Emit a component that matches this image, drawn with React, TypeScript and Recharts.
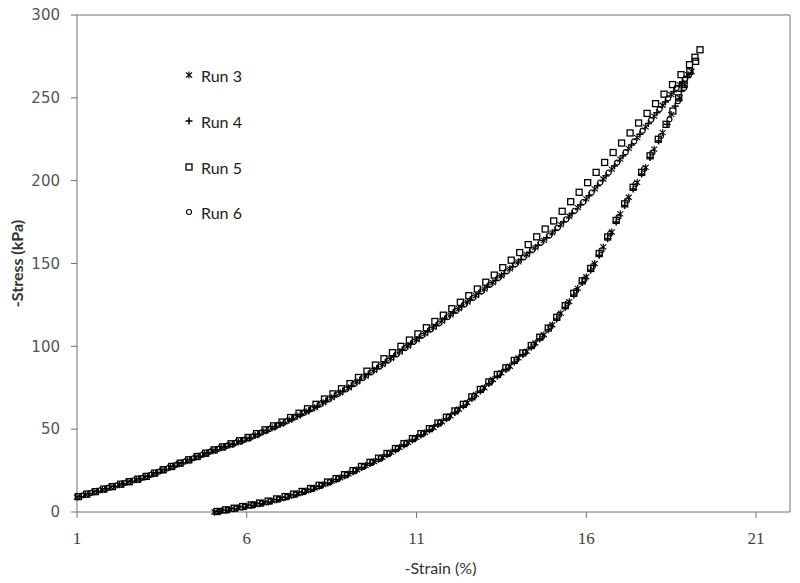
import { ScatterChart, Scatter, XAxis, YAxis, ReferenceLine } from "recharts";

type Pt = [number, number];

const seriesNames = ["Run 3", "Run 4", "Run 5", "Run 6"];
const markerKinds = ["asterisk", "plus", "square", "circle"];
const strainTicks = [1, 6, 11, 16, 21];
const stressTicks = [0, 50, 100, 150, 200, 250, 300];

// [strain %, stress kPa]; loading branch, then unloading branch
const run3Loading: Pt[] = [
  [1.0, 9], [1.25, 10.5], [1.5, 12], [1.75, 13.5], [2.0, 15], [2.25, 16.5], [2.5, 18], [2.75, 19.5],
  [3.0, 21], [3.25, 23], [3.5, 25], [3.75, 27], [4.0, 29], [4.25, 31], [4.5, 33], [4.75, 35],
  [5.0, 37], [5.25, 38.8], [5.5, 40.5], [5.75, 42.3], [6.0, 44], [6.25, 46.2], [6.5, 48.5], [6.75, 50.8],
  [7.0, 53], [7.25, 55.5], [7.5, 58], [7.75, 60.5], [8.0, 63], [8.25, 66], [8.5, 69], [8.75, 72],
  [9.0, 75], [9.25, 78.5], [9.5, 82], [9.75, 85.5], [10.0, 89], [10.25, 92.7], [10.5, 96.5], [10.75, 100.2],
  [11.0, 104], [11.25, 107.7], [11.5, 111.4], [11.75, 115.2], [12.0, 119], [12.25, 122.8], [12.5, 126.7], [12.75, 130.6],
  [13.0, 134.5], [13.25, 138.5], [13.5, 142.6], [13.75, 146.8], [14.0, 151], [14.25, 155.3], [14.5, 159.6], [14.75, 164],
  [15.0, 168.5], [15.25, 173.5], [15.5, 178.5], [15.75, 183.7], [16.0, 189], [16.25, 195], [16.5, 201], [16.75, 207],
  [17.0, 213], [17.25, 219.5], [17.5, 226], [17.75, 232.5], [18.0, 239], [18.25, 245.5], [18.5, 252], [18.75, 258],
  [19.0, 264], [19.1, 266],
];
const run3Unloading: Pt[] = [
  [18.9, 258], [18.75, 250], [18.5, 240], [18.25, 229], [18.0, 219], [17.75, 208], [17.5, 199], [17.25, 190],
  [17.0, 180], [16.75, 169], [16.5, 160], [16.25, 150], [16.0, 142], [15.75, 135], [15.5, 127], [15.25, 120],
  [15.0, 113], [14.75, 107], [14.5, 102], [14.25, 97], [14.0, 93], [13.75, 88], [13.5, 84], [13.25, 80],
  [13.0, 75], [12.75, 71], [12.5, 66], [12.25, 62], [12.0, 58], [11.75, 54.5], [11.5, 51], [11.25, 48],
  [11.0, 45], [10.75, 42], [10.5, 39], [10.25, 36], [10.0, 33], [9.75, 30.5], [9.5, 28], [9.25, 25.5],
  [9.0, 23], [8.75, 20.7], [8.5, 18.5], [8.25, 16.5], [8.0, 14.5], [7.75, 12.7], [7.5, 11], [7.25, 9.5],
  [7.0, 8], [6.75, 6.7], [6.5, 5.5], [6.25, 4.5], [6.0, 3.5], [5.75, 2.5], [5.5, 1.5], [5.25, 0.7],
  [5.05, 0],
];

const run4Loading: Pt[] = [
  [1.08, 9.3], [1.33, 11], [1.58, 12.5], [1.83, 14], [2.08, 15.5], [2.33, 17], [2.58, 18.5], [2.83, 20],
  [3.08, 21.6], [3.33, 23.6], [3.58, 25.6], [3.83, 27.6], [4.08, 29.6], [4.33, 31.6], [4.58, 33.6], [4.83, 35.6],
  [5.08, 37.5], [5.33, 39.3], [5.58, 41], [5.83, 42.8], [6.08, 44.6], [6.33, 46.9], [6.58, 49.2], [6.83, 51.5],
  [7.08, 53.8], [7.33, 56.3], [7.58, 58.8], [7.83, 61.3], [8.08, 64], [8.33, 67], [8.58, 70], [8.83, 73],
  [9.08, 76.1], [9.33, 79.6], [9.58, 83.1], [9.83, 86.6], [10.08, 90.2], [10.33, 93.9], [10.58, 97.7], [10.83, 101.4],
  [11.08, 105.2], [11.33, 108.9], [11.58, 112.6], [11.83, 116.4], [12.08, 120.2], [12.33, 124], [12.58, 127.9], [12.83, 131.8],
  [13.08, 135.8], [13.33, 139.8], [13.58, 143.9], [13.83, 148.1], [14.08, 152.4], [14.33, 156.7], [14.58, 161], [14.83, 165.5],
  [15.08, 170], [15.33, 175.1], [15.58, 180.2], [15.83, 185.4], [16.08, 190.9], [16.33, 196.9], [16.58, 202.9], [16.83, 208.9],
  [17.08, 215], [17.33, 221.5], [17.58, 228], [17.83, 234.5], [18.08, 241], [18.33, 247.5], [18.58, 253.8], [18.83, 259.6],
  [18.98, 262.5],
];
const run4Unloading: Pt[] = [
  [18.8, 254], [18.62, 245], [18.38, 234], [18.13, 224], [17.88, 214], [17.63, 204], [17.38, 195], [17.13, 185],
  [16.88, 175], [16.63, 165], [16.38, 155], [16.13, 146], [15.88, 138.5], [15.63, 131], [15.38, 123.5], [15.13, 116.5],
  [14.88, 110], [14.63, 104.5], [14.38, 99.5], [14.13, 95], [13.88, 90.5], [13.63, 86], [13.38, 82], [13.13, 77.5],
  [12.88, 73], [12.63, 68.5], [12.38, 64], [12.13, 60], [11.88, 56.3], [11.63, 52.8], [11.38, 49.5], [11.13, 46.5],
  [10.88, 43.5], [10.63, 40.5], [10.38, 37.5], [10.13, 34.5], [9.88, 31.8], [9.63, 29.3], [9.38, 26.8], [9.13, 24.3],
  [8.88, 21.9], [8.63, 19.6], [8.38, 17.5], [8.13, 15.5], [7.88, 13.6], [7.63, 11.9], [7.38, 10.3], [7.13, 8.8],
  [6.88, 7.4], [6.63, 6.1], [6.38, 5], [6.13, 4], [5.88, 3], [5.63, 2], [5.38, 1.1], [5.15, 0.3],
];

const run5Loading: Pt[] = [
  [1.04, 9.3], [1.29, 10.8], [1.54, 12.3], [1.79, 13.8], [2.04, 15.3], [2.29, 16.8], [2.54, 18.3], [2.79, 19.8],
  [3.04, 21.5], [3.29, 23.5], [3.54, 25.5], [3.79, 27.5], [4.04, 29.5], [4.29, 31.5], [4.54, 33.5], [4.79, 35.5],
  [5.04, 37.5], [5.29, 39.3], [5.54, 41.2], [5.79, 43], [6.04, 45], [6.29, 47.3], [6.54, 49.6], [6.79, 52],
  [7.04, 54.3], [7.29, 57], [7.54, 59.6], [7.79, 62.3], [8.04, 65], [8.29, 68.2], [8.54, 71.3], [8.79, 74.4],
  [9.04, 77.5], [9.29, 81.2], [9.54, 85], [9.79, 88.7], [10.04, 92.5], [10.29, 96.2], [10.54, 100], [10.79, 103.8],
  [11.04, 107.5], [11.29, 111.2], [11.54, 115], [11.79, 118.8], [12.04, 122.7], [12.29, 126.6], [12.54, 130.6], [12.79, 134.6],
  [13.04, 138.7], [13.29, 143], [13.54, 147.5], [13.79, 152], [14.04, 156.6], [14.29, 161.4], [14.54, 166.1], [14.79, 170.8],
  [15.04, 175.7], [15.29, 181.5], [15.54, 187.3], [15.79, 193], [16.04, 198.8], [16.29, 205], [16.54, 211], [16.79, 217],
  [17.04, 222.7], [17.29, 228.8], [17.54, 234.8], [17.79, 240.6], [18.04, 246.5], [18.29, 252.2], [18.54, 258], [18.79, 264],
  [19.04, 270], [19.2, 274.5], [19.35, 279],
];
const run5Unloading: Pt[] = [
  [19.22, 272], [19.05, 266], [18.88, 258], [18.72, 250], [18.55, 242], [18.35, 234], [18.12, 225], [17.88, 215],
  [17.63, 205], [17.38, 196], [17.13, 186], [16.88, 176], [16.63, 166], [16.38, 156], [16.13, 147], [15.88, 139.5],
  [15.63, 132], [15.38, 124.5], [15.13, 117.5], [14.88, 111], [14.63, 105.5], [14.38, 100.5], [14.13, 96], [13.88, 91.5],
  [13.63, 87], [13.38, 83], [13.13, 78.5], [12.88, 74], [12.63, 69.5], [12.38, 65], [12.13, 61], [11.88, 57.2],
  [11.63, 53.7], [11.38, 50.3], [11.13, 47.3], [10.88, 44.3], [10.63, 41.3], [10.38, 38.3], [10.13, 35.3], [9.88, 32.5],
  [9.63, 30], [9.38, 27.5], [9.13, 25], [8.88, 22.5], [8.63, 20.2], [8.38, 18.1], [8.13, 16.1], [7.88, 14.2],
  [7.63, 12.4], [7.38, 10.8], [7.13, 9.3], [6.88, 7.9], [6.63, 6.6], [6.38, 5.4], [6.13, 4.3], [5.88, 3.3],
  [5.63, 2.3], [5.38, 1.3], [5.12, 0.3],
];

const run6Loading: Pt[] = [
  [1.16, 10], [1.41, 11.5], [1.66, 13], [1.91, 14.5], [2.16, 16], [2.41, 17.5], [2.66, 19], [2.91, 20.5],
  [3.16, 22.3], [3.41, 24.3], [3.66, 26.3], [3.91, 28.3], [4.16, 30.3], [4.41, 32.3], [4.66, 34.3], [4.91, 36.3],
  [5.16, 38.1], [5.41, 39.9], [5.66, 41.6], [5.91, 43.4], [6.16, 45.4], [6.41, 47.7], [6.66, 50], [6.91, 52.3],
  [7.16, 54.6], [7.41, 57.1], [7.66, 59.6], [7.91, 62.1], [8.16, 64.9], [8.41, 67.9], [8.66, 70.9], [8.91, 73.9],
  [9.16, 77.2], [9.41, 80.7], [9.66, 84.2], [9.91, 87.7], [10.16, 91.4], [10.41, 95.1], [10.66, 98.9], [10.91, 102.6],
  [11.16, 106.4], [11.41, 110.1], [11.66, 113.8], [11.91, 117.6], [12.16, 121.4], [12.41, 125.3], [12.66, 129.2], [12.91, 133.1],
  [13.16, 137.1], [13.41, 141.2], [13.66, 145.3], [13.91, 149.5], [14.16, 153.7], [14.41, 158.1], [14.66, 162.5], [14.91, 166.9],
  [15.16, 171.6], [15.41, 176.7], [15.66, 181.8], [15.91, 187.1], [16.16, 192.9], [16.41, 198.9], [16.66, 204.9], [16.91, 210.9],
  [17.16, 217.2], [17.41, 223.7], [17.66, 230.2], [17.91, 236.7], [18.16, 243.2], [18.41, 249.7], [18.66, 256], [18.91, 261.5],
  [19.02, 263.5],
];
const run6Unloading: Pt[] = [
  [18.88, 256], [18.7, 248], [18.45, 237], [18.2, 227], [17.95, 217], [17.7, 207], [17.45, 198], [17.2, 188],
  [16.95, 178], [16.7, 168], [16.45, 158], [16.2, 148.5], [15.95, 140.5], [15.7, 133.5], [15.45, 126], [15.2, 119],
  [14.95, 112], [14.7, 106], [14.45, 101], [14.2, 96.5], [13.95, 92], [13.7, 87.5], [13.45, 83.5], [13.2, 79],
  [12.95, 74.5], [12.7, 70], [12.45, 65.5], [12.2, 61.5], [11.95, 57.5], [11.7, 54], [11.45, 50.5], [11.2, 47.5],
  [10.95, 44.5], [10.7, 41.5], [10.45, 38.5], [10.2, 35.5], [9.95, 32.5], [9.7, 30], [9.45, 27.5], [9.2, 25],
  [8.95, 22.5], [8.7, 20.3], [8.45, 18.1], [8.2, 16.1], [7.95, 14.2], [7.7, 12.4], [7.45, 10.7], [7.2, 9.2],
  [6.95, 7.8], [6.7, 6.5], [6.45, 5.3], [6.2, 4.3], [5.95, 3.3], [5.7, 2.3], [5.45, 1.3], [5.22, 0.5],
];

const runData = [
  [...run3Loading, ...run3Unloading],
  [...run4Loading, ...run4Unloading],
  [...run5Loading, ...run5Unloading],
  [...run6Loading, ...run6Unloading],
].map((pts) => pts.map(([x, y]) => ({ x, y })));

function Marker({ kind, cx, cy }: { kind: string; cx: number; cy: number }) {
  if (cx == null || cy == null) return null;
  if (kind === "asterisk") {
    return (
      <g stroke="#000" strokeWidth={1.1}>
        <line x1={cx} y1={cy - 3.5} x2={cx} y2={cy + 3.5} />
        <line x1={cx - 3} x2={cx + 3} y1={cy - 2.5} y2={cy + 2.5} />
        <line x1={cx - 3} x2={cx + 3} y1={cy + 2.5} y2={cy - 2.5} />
      </g>
    );
  }
  if (kind === "plus") {
    return (
      <g stroke="#000" strokeWidth={1.5}>
        <line x1={cx - 3.5} x2={cx + 3.5} y1={cy} y2={cy} />
        <line x1={cx} x2={cx} y1={cy - 3.5} y2={cy + 3.5} />
      </g>
    );
  }
  if (kind === "square") {
    return <rect x={cx - 3} y={cy - 3} width={6} height={6} fill="none" stroke="#000" strokeWidth={1.3} />;
  }
  return <circle cx={cx} cy={cy} r={2.5} fill="none" stroke="#000" strokeWidth={1.1} />;
}

const legendTops = [75, 121, 167, 212];

export default function App() {
  return (
    <div style={{ position: "absolute", left: 0, top: 0, width: 800, height: 583, background: "#fff" }}>
      <ScatterChart width={800} height={583} margin={{ top: 15, right: 10, bottom: 0, left: 0 }}>
        <XAxis
          type="number"
          dataKey="x"
          domain={[1, 22]}
          ticks={strainTicks}
          interval={0}
          height={71}
          tickSize={6}
          tickMargin={14}
          axisLine={{ stroke: "#707070" }}
          tickLine={{ stroke: "#707070" }}
          tick={{ fontFamily: "Liberation Serif", fontSize: 17, fill: "#404040" }}
          label={{
            value: "-Strain (%)",
            position: "insideBottom",
            offset: 9,
            dx: 7,
            style: { fontFamily: "Lato", fontSize: 16, fill: "#333" },
          }}
        />
        <YAxis
          type="number"
          dataKey="y"
          domain={[0, 300]}
          ticks={stressTicks}
          interval={0}
          width={77}
          tickSize={6}
          tickMargin={11}
          axisLine={{ stroke: "#707070" }}
          tickLine={{ stroke: "#707070" }}
          tick={{ fontFamily: "DejaVu Sans", fontSize: 15, fill: "#555" }}
          label={{
            value: "-Stress (kPa)",
            angle: -90,
            position: "insideLeft",
            offset: 17,
            style: { textAnchor: "middle", fontFamily: "Lato", fontWeight: 700, fontSize: 16, fill: "#333" },
          }}
        />
        <ReferenceLine y={300} stroke="#a0a0a0" strokeWidth={1.5} />
        <ReferenceLine x={22} stroke="#a0a0a0" strokeWidth={1.5} />
        {runData.map((d, i) => (
          <Scatter
            key={seriesNames[i]}
            name={seriesNames[i]}
            data={d}
            isAnimationActive={false}
            shape={(p: any) => <Marker kind={markerKinds[i]} cx={p.cx} cy={p.cy} />}
          />
        ))}
      </ScatterChart>
      {seriesNames.map((name, i) => (
        <div
          key={name}
          style={{
            position: "absolute",
            left: 183,
            top: legendTops[i] - 10,
            height: 20,
            display: "flex",
            alignItems: "center",
            fontFamily: "Lato",
            fontSize: 16,
            color: "#222",
          }}
        >
          <svg width={12} height={12} style={{ marginRight: 6 }}>
            <Marker kind={markerKinds[i]} cx={6} cy={6} />
          </svg>
          <span>{name}</span>
        </div>
      ))}
    </div>
  );
}
